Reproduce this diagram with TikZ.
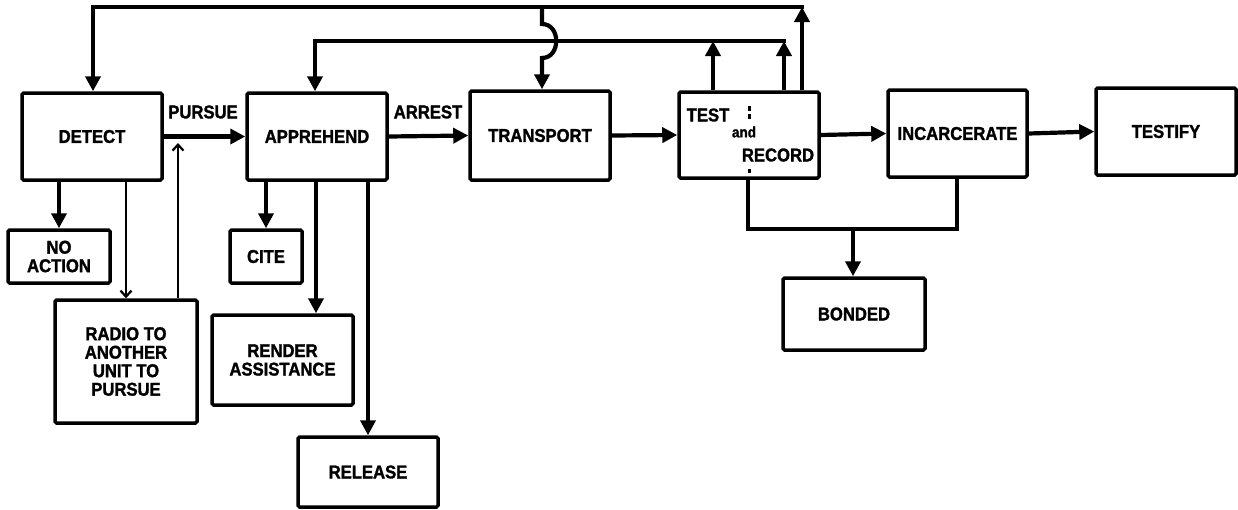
\documentclass[tikz,border=0pt]{standalone}
\usepackage{fontspec}
\setmainfont{Liberation Sans}[FakeStretch=0.9,BoldFeatures={FakeBold=1.5}]
\usetikzlibrary{arrows.meta}
\begin{document}
\begin{tikzpicture}[x=1pt,y=-1pt,
  box/.style={draw,line width=3.5pt,rounded corners=1.5pt,inner sep=0pt,align=center,
    font=\fontsize{18.5}{18.5}\selectfont\bfseries},
  conn/.style={line width=4.2pt},
  tip/.style={-{Triangle[length=15pt,width=15pt]}},
  thinc/.style={line width=2.2pt},
  otip/.style={-{Straight Barb[length=6pt,width=11pt,line width=2.2pt]}},
  lbl/.style={font=\fontsize{18.5}{18}\selectfont\bfseries,inner sep=0pt},
  small/.style={font=\fontsize{15}{15}\selectfont\bfseries,inner sep=0pt}]
\fill[white] (0,0) rectangle (1238,509);
\useasboundingbox (0,0) rectangle (1238,509);

% main row
\node[box,minimum width=140pt,minimum height=87pt] (detect) at (92,136.5) {DETECT};
\node[box,minimum width=140pt,minimum height=87pt] (apprehend) at (317,136.5) {APPREHEND};
\node[box,minimum width=140pt,minimum height=89pt] (transport) at (540,135.5) {TRANSPORT};
\node[box,minimum width=140pt,minimum height=86pt] (test) at (749,135) {};
\node[box,minimum width=139pt,minimum height=87pt] (incarcerate) at (957.5,133.5) {INCARCERATE};
\node[box,minimum width=140pt,minimum height=87pt] (testify) at (1166,131.5) {TESTIFY};

% text inside TEST box
\node[lbl] (tt) at (708,115) {TEST};
\node[small] (ta) at (744,132) {and};
\node[lbl] (tr) at (778,155) {RECORD};
\fill (748,106) rectangle (750.5,111);
\fill (748,114) rectangle (750.5,119);
\fill (748,169) rectangle (750.5,173);

% lower boxes
\node[box,minimum width=102pt,minimum height=53pt] (noaction) at (59,256.5) {NO\\ACTION};
\node[box,minimum width=142pt,minimum height=123pt] (radio) at (126,361.5) {RADIO TO\\ANOTHER\\UNIT TO\\PURSUE};
\node[box,minimum width=72pt,minimum height=53pt] (cite) at (266,256.5) {CITE};
\node[box,minimum width=141pt,minimum height=90pt] (render) at (282.5,360) {RENDER\\ASSISTANCE};
\node[box,minimum width=140pt,minimum height=70pt] (release) at (368,472) {RELEASE};
\node[box,minimum width=142pt,minimum height=72pt] (bonded) at (854,314) {BONDED};

% labels
\node[lbl] (pl) at (203,112) {PURSUE};
\node[lbl] (al) at (428,112) {ARREST};

% main flow
\draw[conn,tip] (detect.east) -- (apprehend.west);
\draw[conn,tip] (apprehend.east) -- (transport.west);
\draw[conn,tip] (transport.east) -- (test.west);
\draw[conn,tip] (test.east) -- (incarcerate.west);
\draw[conn,tip] (incarcerate.east) -- (testify.west);

% detect branches
\draw[conn,tip] (detect.south -| noaction.north) -- (noaction.north);
\draw[thinc,otip] (detect.south -| radio.north) -- (radio.north);
\coordinate (pj) at (178,143);
\draw[thinc,otip] (radio.north -| pj) -- (pj);

% apprehend branches
\draw[conn,tip] (apprehend.south -| cite.north) -- (cite.north);
\coordinate (r1) at (316,0);
\draw[conn,tip] (apprehend.south -| r1) -- (render.north -| r1);
\draw[conn,tip] (apprehend.south -| release.north) -- (release.north);

% top feedback loop
\coordinate (c1) at (93,7);
\coordinate (c2) at (802,7);
\draw[conn,tip] (test.north -| c2) -- (c2);
\draw[conn,tip,line cap=rect] (c2) -- (c1) -- (detect.north -| c1);

% second feedback loop
\coordinate (d1) at (315,41);
\coordinate (d2) at (784,41);
\coordinate (u1) at (713,41);
\draw[conn,tip] (test.north -| d2) -- (d2);
\draw[conn,tip] (test.north -| u1) -- (u1);
\draw[conn,tip,line cap=rect] (d2) -- (d1) -- (apprehend.north -| d1);

% branch to transport with hop
\coordinate (h1) at (542,7);
\draw[conn,tip] (h1) -- (542,24) .. controls (561,24) and (561,58) .. (542,58) -- (transport.north -| h1);

% bonded
\coordinate (b1) at (748,229);
\coordinate (b2) at (957,229);
\coordinate (b3) at (853,229);
\draw[conn,line cap=rect] (test.south -| b1) -- (b1) -- (b2) -- (incarcerate.south -| b2);
\draw[conn,tip] (b3) -- (bonded.north -| b3);
\end{tikzpicture}
\end{document}
